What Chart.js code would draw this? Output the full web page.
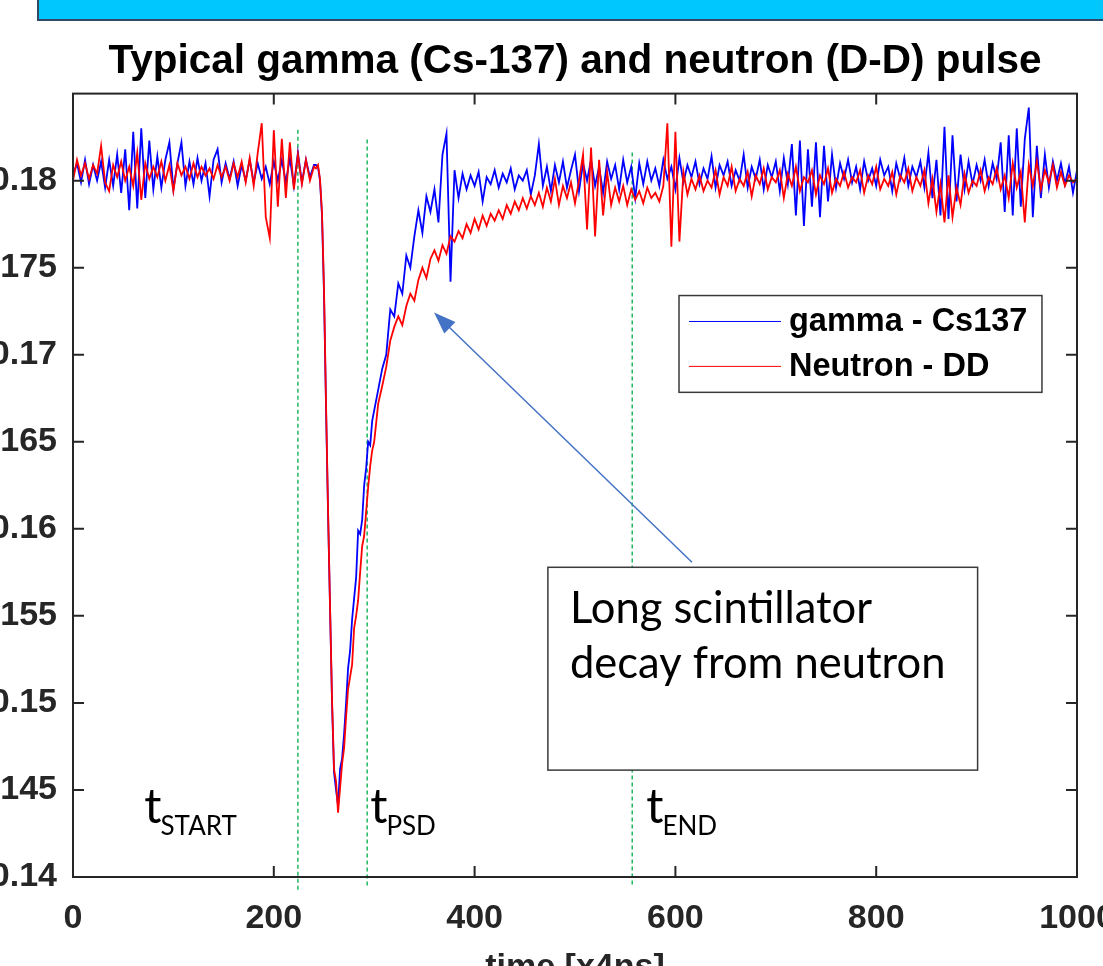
<!DOCTYPE html>
<html>
<head>
<meta charset="utf-8">
<script src="https://cdn.jsdelivr.net/npm/chart.js@4.4.1/dist/chart.umd.min.js"></script>
<style>
  html, body { margin: 0; padding: 0; background: #fff; overflow: hidden; width: 1103px; height: 966px; }
  #wrap { position: relative; width: 1103px; height: 966px; overflow: hidden; }
  #banner { position: absolute; left: 37px; top: 0; width: 1066px; height: 19px; background: #00c8ff;
            border-left: 2px solid #2e4a66; border-bottom: 2px solid #2e4a66; z-index: 2; }
  canvas { position: absolute; left: 0; top: 0; }
</style>
</head>
<body>
<div id="wrap">
  <div id="banner"></div>
  <canvas id="mainCanvas" width="1160" height="1000"></canvas>
</div>
<script>
// sample index (x4ns), finer around the pulse
const sampleTime = [
  0,4,8,12,16,20,24,28,32,36,40,44,48,52,56,60,64,68,72,76,80,84,88,92,96,100,104,108,112,116,
  120,124,128,132,136,140,144,148,152,156,160,164,168,172,176,180,184,188,192,196,200,204,208,212,216,220,224,228,232,236,240,
  242,244,246,248,250,252,254,256,258,260,262,264,266,268,270,272,274,276,278,280,282,284,286,288,290,292,294,296,298,300,
  304,308,312,316,320,324,328,332,336,340,344,348,352,356,360,364,368,372,376,380,
  384,388,392,396,400,404,408,412,416,420,424,428,432,436,440,444,448,452,456,460,
  464,468,472,476,480,484,488,492,496,500,504,508,512,516,520,524,528,532,536,540,
  544,548,552,556,560,564,568,572,576,580,584,588,592,596,600,604,608,612,616,620,
  624,628,632,636,640,644,648,652,656,660,664,668,672,676,680,684,688,692,696,700,
  704,708,712,716,720,724,728,732,736,740,744,748,752,756,760,764,768,772,776,780,
  784,788,792,796,800,804,808,812,816,820,824,828,832,836,840,844,848,852,856,860,
  864,868,872,876,880,884,888,892,896,900,904,908,912,916,920,924,928,932,936,940,
  944,948,952,956,960,964,968,972,976,980,984,988,992,996,1000
];

const gammaCs137 = [
  // 0 - 240
  0.1803,0.1810,0.1799,0.1812,0.1798,0.1809,0.1800,0.1811,0.1796,0.1812,0.1797,0.1815,0.1793,0.1818,0.1783,
  0.1828,0.1784,0.1830,0.1790,0.1823,0.1795,0.1814,0.1796,0.1812,0.1822,0.1795,0.1810,0.1822,0.1797,0.1811,
  0.1798,0.1813,0.1800,0.1810,0.1791,0.1812,0.1818,0.1799,0.1810,0.1801,0.1811,0.1797,0.1809,0.1800,0.1812,
  0.1799,0.1810,0.1801,0.1808,0.1798,0.1811,0.1800,0.1812,0.1799,0.1813,0.1797,0.1816,0.1799,0.1812,0.1802,0.1809,
  // 242 - 300
  0.1809,0.1808,0.1800,0.1780,0.1735,0.1670,0.1610,0.1555,0.1500,0.1460,0.1450,0.1441,0.1462,0.1468,0.1482,
  0.1500,0.1520,0.1530,0.1548,0.1560,0.1572,0.1599,0.1597,0.1605,0.1625,0.1635,0.1650,0.1648,0.1662,0.1668,
  // 304 - 1000
  0.1680,0.1692,0.1700,0.1726,0.1722,0.1741,0.1735,0.1757,0.1750,0.1768,
  0.1783,0.1770,0.1791,0.1782,0.1795,0.1776,0.1815,0.1827,0.1742,0.1806,
  0.1790,0.1804,0.1795,0.1803,0.1797,0.1805,0.1788,0.1802,0.1798,0.1806,
  0.1796,0.1804,0.1799,0.1807,0.1795,0.1803,0.1800,0.1806,0.1792,0.1803,
  0.1821,0.1797,0.1808,0.1794,0.1809,0.1799,0.1811,0.1796,0.1806,0.1815,
  0.1794,0.1810,0.1800,0.1812,0.1797,0.1808,0.1793,0.1811,0.1801,0.1809,
  0.1795,0.1812,0.1799,0.1808,0.1790,0.1810,0.1798,0.1811,0.1800,0.1807,
  0.1797,0.1812,0.1801,0.1808,0.1795,0.1813,0.1799,0.1809,0.1802,0.1811,
  0.1798,0.1807,0.1801,0.1814,0.1796,0.1809,0.1803,0.1811,0.1797,0.1806,
  0.1800,0.1815,0.1796,0.1808,0.1801,0.1812,0.1795,0.1809,0.1802,0.1811,
  0.1794,0.1813,0.1798,0.1821,0.1780,0.1823,0.1774,0.1818,0.1785,0.1822,
  0.1779,0.1820,0.1788,0.1815,0.1796,0.1810,0.1801,0.1812,0.1799,0.1808,
  0.1795,0.1811,0.1800,0.1807,0.1797,0.1812,0.1803,0.1808,0.1794,0.1810,
  0.1801,0.1813,0.1797,0.1808,0.1802,0.1811,0.1796,0.1816,0.1790,0.1812,
  0.1780,0.1831,0.1778,0.1826,0.1788,0.1815,0.1795,0.1811,0.1798,0.1809,
  0.1800,0.1812,0.1797,0.1810,0.1801,0.1822,0.1782,0.1826,0.1780,0.1830,
  0.1785,0.1824,0.1842,0.1779,0.1820,0.1790,0.1815,0.1796,0.1811,0.1800,
  0.1810,0.1798,0.1808,0.1793,0.1806
];

const neutronDD = [
  // 0 - 240
  0.1800,0.1812,0.1803,0.1810,0.1801,0.1809,0.1804,0.1820,0.1799,0.1794,0.1809,0.1802,0.1811,0.1800,0.1808,
  0.1797,0.1816,0.1789,0.1810,0.1801,0.1808,0.1802,0.1811,0.1800,0.1809,0.1794,0.1810,0.1803,0.1808,0.1801,
  0.1810,0.1802,0.1808,0.1803,0.1807,0.1801,0.1809,0.1802,0.1808,0.1800,0.1810,0.1802,0.1811,0.1799,0.1813,
  0.1797,0.1816,0.1833,0.1779,0.1767,0.1829,0.1785,0.1824,0.1790,0.1822,0.1795,0.1815,0.1798,0.1812,0.1800,0.1808,
  // 242 - 300
  0.1807,0.1809,0.1801,0.1782,0.1738,0.1673,0.1612,0.1556,0.1502,0.1462,0.1455,0.1437,0.1451,0.1465,0.1474,
  0.1492,0.1508,0.1515,0.1522,0.1543,0.1550,0.1559,0.1575,0.1590,0.1596,0.1610,0.1624,0.1636,0.1645,0.1650,
  // 304 - 1000
  0.1672,0.1682,0.1693,0.1708,0.1716,0.1722,0.1717,0.1728,0.1735,0.1731,
  0.1743,0.1750,0.1744,0.1755,0.1760,0.1754,0.1763,0.1758,0.1768,0.1765,
  0.1771,0.1767,0.1775,0.1770,0.1778,0.1772,0.1780,0.1774,0.1781,0.1777,
  0.1783,0.1778,0.1786,0.1781,0.1788,0.1783,0.1790,0.1784,0.1791,0.1786,
  0.1793,0.1785,0.1796,0.1788,0.1801,0.1786,0.1797,0.1790,0.1799,0.1787,
  0.1800,0.1815,0.1772,0.1819,0.1768,0.1812,0.1780,0.1805,0.1786,0.1796,
  0.1788,0.1797,0.1786,0.1795,0.1789,0.1794,0.1787,0.1796,0.1790,0.1793,
  0.1788,0.1797,0.1833,0.1762,0.1828,0.1765,0.1805,0.1792,0.1801,0.1795,
  0.1803,0.1794,0.1800,0.1796,0.1806,0.1792,0.1802,0.1797,0.1808,0.1794,
  0.1801,0.1797,0.1805,0.1791,0.1803,0.1798,0.1807,0.1795,0.1802,0.1799,
  0.1806,0.1790,0.1804,0.1797,0.1808,0.1794,0.1802,0.1799,0.1806,0.1792,
  0.1803,0.1798,0.1807,0.1793,0.1801,0.1797,0.1805,0.1796,0.1802,0.1799,
  0.1806,0.1793,0.1803,0.1798,0.1808,0.1795,0.1801,0.1797,0.1805,0.1792,
  0.1803,0.1799,0.1807,0.1794,0.1802,0.1797,0.1806,0.1787,0.1801,0.1782,
  0.1798,0.1776,0.1803,0.1779,0.1796,0.1786,0.1804,0.1793,0.1800,0.1797,
  0.1806,0.1794,0.1802,0.1798,0.1807,0.1795,0.1803,0.1790,0.1810,0.1796,
  0.1805,0.1776,0.1809,0.1797,0.1811,0.1795,0.1806,0.1799,0.1809,0.1796,
  0.1805,0.1797,0.1803,0.1799,0.1801
];

// integration window markers (green dashed lines)
const markerTime = [224, 293, 557];
const markerTop = [0.18293, 0.18236, 0.18161];
const markerBottom = [0.13925, 0.13942, 0.13954];
const markerSub = ['START', 'PSD', 'END'];
const markerLabelT = [71, 296, 571];

const xTicks = [0, 200, 400, 600, 800, 1000];
const xTickLabels = ['0', '200', '400', '600', '800', '1000'];
const yTicks = [0.14, 0.145, 0.15, 0.155, 0.16, 0.165, 0.17, 0.175, 0.18];
const yTickLabels = ['0.14', '0.145', '0.15', '0.155', '0.16', '0.165', '0.17', '0.175', '0.18'];

const seriesNames = ['gamma - Cs137', 'Neutron - DD'];
const seriesColors = ['#0000ff', '#ff0000'];

const ctx = document.getElementById('mainCanvas').getContext('2d');
const axisColor = '#262626';
const matlabFont = 'Liberation Sans';

function toPoints(values) {
    return values.map((v, i) => ({ x: sampleTime[i], y: v }));
}

// frame box with inward ticks, matlab style
const axesFrame = {
    id: 'axesFrame',
    afterDatasetsDraw(chart) {
        const { ctx, chartArea: a, scales: { x, y } } = chart;
        ctx.save();
        ctx.strokeStyle = axisColor;
        ctx.lineWidth = 2;
        ctx.strokeRect(a.left, a.top, a.right - a.left, a.bottom - a.top);
        ctx.beginPath();
        x.ticks.forEach(t => {
            const px = x.getPixelForValue(t.value);
            if (px <= a.left + 1 || px >= a.right - 1) return;
            ctx.moveTo(px, a.bottom); ctx.lineTo(px, a.bottom - 11);
            ctx.moveTo(px, a.top); ctx.lineTo(px, a.top + 11);
        });
        y.ticks.forEach(t => {
            const py = y.getPixelForValue(t.value);
            if (py >= a.bottom - 1 || py <= a.top + 1) return;
            ctx.moveTo(a.left, py); ctx.lineTo(a.left + 11, py);
            ctx.moveTo(a.right, py); ctx.lineTo(a.right - 11, py);
        });
        ctx.stroke();
        ctx.restore();
    }
};

// legend box, marker labels, note box and arrow
const overlays = {
    id: 'overlays',
    afterDraw(chart) {
        const { ctx, scales: { x, y } } = chart;
        ctx.save();

        // t_START, t_PSD, t_END
        ctx.fillStyle = '#000';
        ctx.textBaseline = 'alphabetic';
        markerSub.forEach((sub, i) => {
            const px = x.getPixelForValue(markerLabelT[i]);
            const py = y.getPixelForValue(0.14309);
            ctx.font = '48px Lato';
            ctx.fillText('t', px, py);
            const w = ctx.measureText('t').width;
            ctx.font = '26px Lato';
            ctx.fillText(sub, px + w - 1, py + 12);
        });

        // note box
        const bx0 = x.getPixelForValue(473), bx1 = x.getPixelForValue(901);
        const by0 = y.getPixelForValue(0.15779), by1 = y.getPixelForValue(0.14614);
        ctx.fillStyle = '#fff';
        ctx.fillRect(bx0, by0, bx1 - bx0, by1 - by0);
        ctx.strokeStyle = '#3a3a3a';
        ctx.lineWidth = 1.5;
        ctx.strokeRect(bx0, by0, bx1 - bx0, by1 - by0);
        ctx.fillStyle = '#000';
        ctx.font = '43.5px Lato';
        ctx.fillText('Long scintillator', x.getPixelForValue(495), y.getPixelForValue(0.15458));
        ctx.fillText('decay from neutron', x.getPixelForValue(495), y.getPixelForValue(0.15142));

        // arrow
        const ax0 = x.getPixelForValue(616.5), ay0 = y.getPixelForValue(0.15808);
        const ax1 = x.getPixelForValue(359.6), ay1 = y.getPixelForValue(0.17243);
        const ang = Math.atan2(ay1 - ay0, ax1 - ax0);
        const headLen = 22, headW = 8;
        ctx.strokeStyle = '#4472c4';
        ctx.fillStyle = '#4472c4';
        ctx.lineWidth = 1.5;
        ctx.beginPath();
        ctx.moveTo(ax0, ay0);
        ctx.lineTo(ax1 - Math.cos(ang) * headLen * 0.8, ay1 - Math.sin(ang) * headLen * 0.8);
        ctx.stroke();
        ctx.beginPath();
        ctx.moveTo(ax1, ay1);
        ctx.lineTo(ax1 - Math.cos(ang) * headLen + Math.sin(ang) * headW, ay1 - Math.sin(ang) * headLen - Math.cos(ang) * headW);
        ctx.lineTo(ax1 - Math.cos(ang) * headLen - Math.sin(ang) * headW, ay1 - Math.sin(ang) * headLen + Math.cos(ang) * headW);
        ctx.closePath();
        ctx.fill();

        // legend
        const lx0 = x.getPixelForValue(603.6), lx1 = x.getPixelForValue(965.1);
        const ly0 = y.getPixelForValue(0.17340), ly1 = y.getPixelForValue(0.16784);
        ctx.fillStyle = '#fff';
        ctx.fillRect(lx0, ly0, lx1 - lx0, ly1 - ly0);
        ctx.strokeStyle = '#3a3a3a';
        ctx.lineWidth = 1.5;
        ctx.strokeRect(lx0, ly0, lx1 - lx0, ly1 - ly0);
        const rowV = [0.17191, 0.16933];
        seriesNames.forEach((name, i) => {
            const py = y.getPixelForValue(rowV[i]);
            ctx.strokeStyle = seriesColors[i];
            ctx.lineWidth = 1;
            ctx.beginPath();
            ctx.moveTo(x.getPixelForValue(613.5), py);
            ctx.lineTo(x.getPixelForValue(705.2), py);
            ctx.stroke();
            ctx.fillStyle = '#000';
            ctx.font = 'bold 32.5px "' + matlabFont + '"';
            ctx.textBaseline = 'middle';
            ctx.fillText(name, x.getPixelForValue(713.1), py + 1);
        });
        ctx.restore();
    }
};

const markerDatasets = markerTime.map((t, i) => ({
    label: 'marker ' + markerSub[i],
    data: [{ x: t, y: markerTop[i] }, { x: t, y: markerBottom[i] }],
    borderColor: '#1fb860',
    borderWidth: 1.5,
    borderDash: [4, 3],
    pointRadius: 0,
    clip: false,
    order: 5
}));

const tickFont = { family: matlabFont, weight: 'bold', size: 34 };

new Chart(ctx, {
    type: 'line',
    data: {
        datasets: [
            {
                label: seriesNames[0],
                data: toPoints(gammaCs137),
                borderColor: seriesColors[0],
                borderWidth: 1.8,
                pointRadius: 0,
                tension: 0,
                order: 2
            },
            {
                label: seriesNames[1],
                data: toPoints(neutronDD),
                borderColor: seriesColors[1],
                borderWidth: 1.8,
                pointRadius: 0,
                tension: 0,
                order: 1
            },
            ...markerDatasets
        ]
    },
    options: {
        responsive: false,
        animation: false,
        devicePixelRatio: 1,
        layout: { padding: { left: 0, top: 0, right: 83, bottom: 0 } },
        plugins: {
            legend: { display: false },
            tooltip: { enabled: false },
            title: {
                display: true,
                text: 'Typical gamma (Cs-137) and neutron (D-D) pulse',
                color: '#000',
                fullSize: false,
                font: { family: matlabFont, weight: 'bold', size: 40.5 },
                padding: { top: 38, bottom: 7 }
            }
        },
        scales: {
            x: {
                type: 'linear',
                min: 0,
                max: 1000,
                afterBuildTicks: s => { s.ticks = xTicks.map(v => ({ value: v })); },
                afterFit: s => { s.height = 123; },
                ticks: {
                    padding: 21,
                    color: axisColor,
                    font: tickFont,
                    maxRotation: 0,
                    autoSkip: false,
                    callback: (v, i) => xTickLabels[i]
                },
                grid: { display: false, drawTicks: false },
                border: { display: false },
                title: {
                    display: true,
                    text: 'time [x4ns]',
                    color: axisColor,
                    font: tickFont,
                    padding: { top: 0, bottom: 12 }
                }
            },
            y: {
                type: 'linear',
                min: 0.14,
                max: 0.185,
                afterBuildTicks: s => { s.ticks = yTicks.map(v => ({ value: v })); },
                afterFit: s => { s.width = 73; },
                ticks: {
                    padding: 16,
                    color: axisColor,
                    font: tickFont,
                    autoSkip: false,
                    callback: (v, i) => yTickLabels[i]
                },
                grid: { display: false, drawTicks: false },
                border: { display: false }
            }
        }
    },
    plugins: [axesFrame, overlays]
});
</script>
</body>
</html>
